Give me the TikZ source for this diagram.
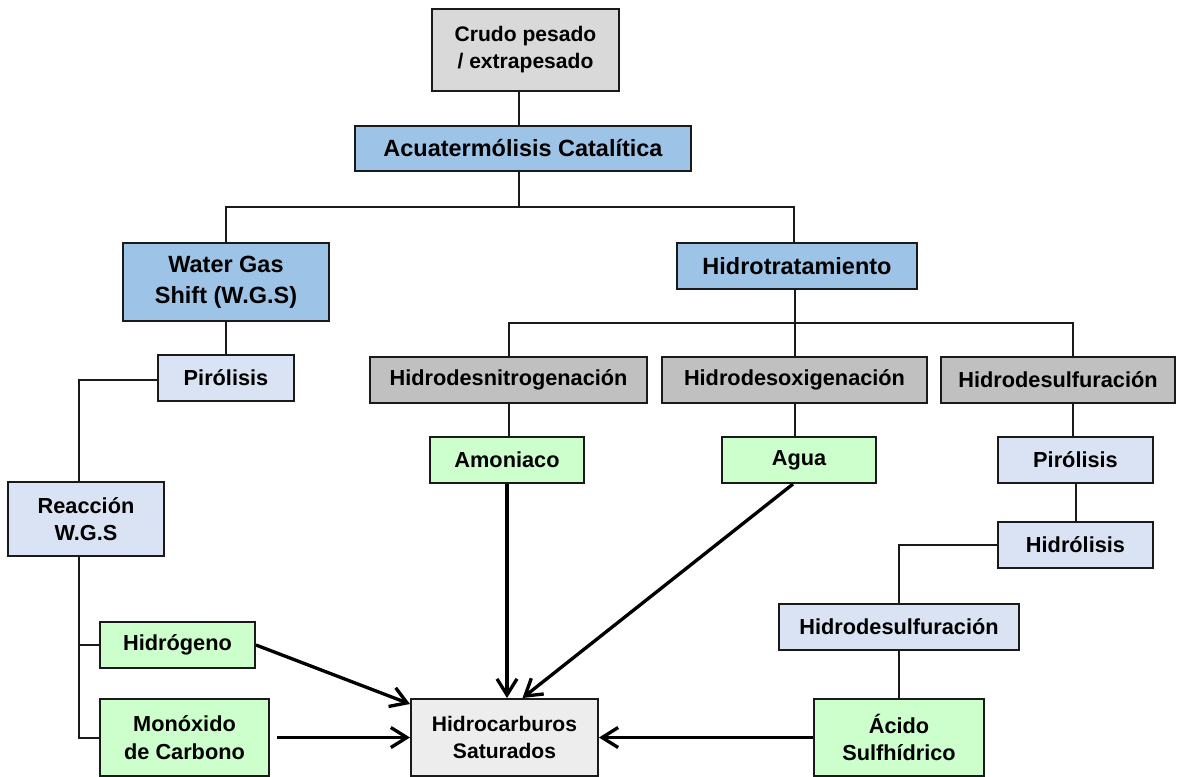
\documentclass[tikz,border=0pt]{standalone}
\usepackage{fontspec}
\setmainfont{Liberation Sans}
\usetikzlibrary{arrows.meta,calc}
\definecolor{bdr}{HTML}{1A1A1A}
\definecolor{cCrudo}{HTML}{D9D9D9}
\definecolor{cBlue}{HTML}{9DC3E6}
\definecolor{cGray}{HTML}{C0C0C0}
\definecolor{cLight}{HTML}{DAE3F3}
\definecolor{cGreen}{HTML}{CCFFCC}
\definecolor{cHC}{HTML}{EDEDED}
\begin{document}
\begin{tikzpicture}[x=0.75pt,y=-0.75pt,
  box/.style={draw=bdr, line width=1.5pt, inner sep=0pt, align=center, text=black},
  fnorm/.style={font=\fontsize{16.3}{20.5}\selectfont\bfseries},
  fbig/.style={font=\fontsize{17.6}{23.2}\selectfont\bfseries},
  fsmall/.style={font=\fontsize{15.8}{20.2}\selectfont\bfseries},
  conn/.style={draw=bdr, line width=1.5pt},
  arr/.style={draw=black, line width=2.5pt, -{Straight Barb[length=12pt,width=15pt]}}]
\useasboundingbox (0,0) rectangle (1177,777);
\fill[white] (0,0) rectangle (1177,777);

% nodes
\node[box, fsmall, fill=cCrudo, minimum width=140.25pt, minimum height=61.5pt] (crudo) at (525.5,50) {Crudo pesado\\/ extrapesado};
\node[box, fbig, fill=cBlue, minimum width=252pt, minimum height=33.75pt] (acua) at (523,148.5) {Acuatermólisis Catalítica};
\node[box, fbig, fill=cBlue, minimum width=154.5pt, minimum height=58.5pt] (wgs) at (226,282) {Water Gas\\Shift (W.G.S)};
\node[box, fbig, fill=cBlue, minimum width=180pt, minimum height=34.5pt] (hidrot) at (797,266) {Hidrotratamiento};
\node[box, fnorm, fill=cGray, minimum width=207.75pt, minimum height=34.5pt] (hdn) at (508.5,380) {Hidrodesnitrogenación};
\node[box, fnorm, fill=cGray, minimum width=198.75pt, minimum height=34.5pt] (hdo) at (794.5,380) {Hidrodesoxigenación};
\node[box, fnorm, fill=cGray, minimum width=175.5pt, minimum height=34.5pt] (hds) at (1058,380) {Hidrodesulfuración};
\node[box, fnorm, fill=cLight, minimum width=102pt, minimum height=34.5pt] (pir1) at (226,378) {Pirólisis};
\node[box, fnorm, fill=cLight, minimum width=117pt, minimum height=55.5pt] (reac) at (86,519) {Reacción\\W.G.S};
\node[box, fnorm, fill=cGreen, minimum width=116.25pt, minimum height=34.5pt] (hidg) at (177.5,645) {Hidrógeno};
\node[box, fnorm, fill=cGreen, minimum width=126.75pt, minimum height=57.75pt] (mono) at (184.5,737.5) {Monóxido\\de Carbono};
\node[box, fnorm, fill=cGreen, minimum width=115.5pt, minimum height=34.5pt] (amon) at (507,460) {Amoniaco};
\node[box, fnorm, fill=cGreen, minimum width=115.5pt, minimum height=34.5pt] (agua) at (799,460) {Agua};
\node[box, fnorm, fill=cLight, minimum width=116.25pt, minimum height=34.5pt] (pir2) at (1075.5,460) {Pirólisis};
\node[box, fnorm, fill=cLight, minimum width=116.25pt, minimum height=34.5pt] (hidrol) at (1075.5,545) {Hidrólisis};
\node[box, fnorm, fill=cLight, minimum width=180pt, minimum height=34.5pt] (hds2) at (899,627) {Hidrodesulfuración};
\node[box, fnorm, fill=cGreen, minimum width=127.5pt, minimum height=57.75pt] (acido) at (899,737.5) {Ácido\\Sulfhídrico};
\node[box, fsmall, fill=cHC, minimum width=140.25pt, minimum height=57.75pt] (hc) at (504.5,737.5) {Hidrocarburos\\Saturados};

% connectors
\coordinate (j1) at (519,207);
\draw[conn] (crudo.south -| j1) -- (acua.north -| j1);
\draw[conn] (acua.south -| j1) -- (j1);
\draw[conn] (wgs.north) |- (j1) -| ($(hidrot.north)+(-3,0)$);
\draw[conn] (hidrot.south -| hdo.north) -- (hdo.north);
\coordinate (j2) at (1073,323);
\draw[conn] (hdn.north) |- (j2) -- (j2 |- hds.north);
\draw[conn] (j2 |- hds.south) -- (j2 |- pir2.north);
\draw[conn] (hdn.south) -- (hdn.south |- amon.north);
\draw[conn] (hdo.south) -- (hdo.south |- agua.north);
\draw[conn] (wgs.south) -- (pir1.north);
\coordinate (j3) at (79,380);
\draw[conn] (pir1.west |- j3) -- (j3) -- (j3 |- reac.north);
\draw[conn] (j3 |- reac.south) |- (mono.west);
\draw[conn] (j3 |- hidg.west) -- (hidg.west);
\draw[conn] (pir2.south) -- (hidrol.north);
\draw[conn] (hidrol.west) -| (hds2.north);
\draw[conn] (hds2.south) -- (acido.north);

% arrows
\draw[arr] (amon.south) -- (amon.south |- hc.north);
\draw[arr] ($(agua.south)+(-6,0)$) -- ($(hc.north)+(18,0)$);
\draw[arr] (hidg.east) -- ($(hc.north west)+(0,6)$);
\draw[arr] ($(mono.east)+(7,0)$) -- (hc.west);
\draw[arr] (acido.west) -- (hc.east);
\end{tikzpicture}
\end{document}
